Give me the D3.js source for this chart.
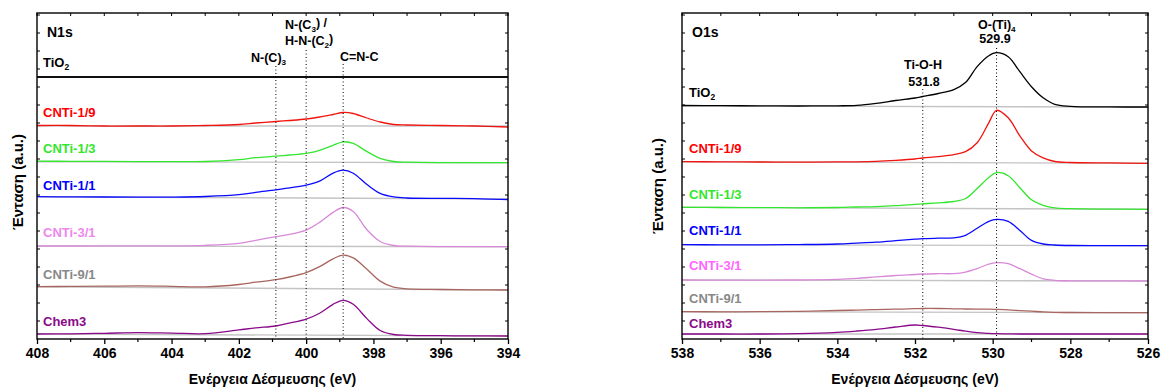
<!DOCTYPE html>
<html>
<head>
<meta charset="utf-8">
<script src="https://cdn.jsdelivr.net/npm/d3@7"></script>
<style>
  body { margin: 0; background: #fff; }
  svg { display: block; font-family: "Liberation Sans", Arial, sans-serif; font-weight: bold; }
</style>
</head>
<body>
<svg id="chart" width="1161" height="388"></svg>
<script>
// sample names, top to bottom
const samples = ["TiO_{2}", "CNTi-1/9", "CNTi-1/3", "CNTi-1/1", "CNTi-3/1", "CNTi-9/1", "Chem3"];

// ---- N1s (binding energy in eV, intensity in a.u.) ----
const nEnergy = [408, 407, 406, 405, 404, 403, 402, 401.5, 400.9, 400.5, 400.0, 399.6, 399.2, 398.9, 398.6, 398.2, 397.8, 397.4, 397, 396, 395, 394];
const nTiO2Energy = [408, 394];
const nTiO2 = [262, 262];
const nCNTi19 = [213.5, 213.5, 213, 213, 213, 213.5, 214.5, 216, 217.5, 218.5, 220, 222, 224.5, 226.5, 225.5, 221, 217, 214.5, 214, 213.5, 213, 212];
const nCNTi13 = [177.8, 177.7, 177.7, 177.4, 177.3, 177.5, 179.4, 181.3, 182.8, 184, 185.7, 188.7, 193.7, 197.2, 195.6, 187.6, 180.6, 177.5, 176.8, 176.4, 176.4, 176.3];
const nCNTi11 = [142.3, 142.1, 142, 141.8, 141.9, 142.5, 144.3, 146.7, 149.1, 151.1, 153.8, 157.9, 165.9, 168.8, 165.8, 154.7, 145.6, 142.1, 141, 140.6, 140.4, 139.5];
const nCNTi31 = [93, 93, 93.2, 93.1, 93.1, 93.7, 95.7, 98.7, 102.3, 104.6, 108.9, 116.6, 126.6, 131.5, 127.5, 109.5, 97.5, 93.5, 92.8, 92.4, 92.4, 92.3];
const nCNTi91 = [52.3, 52.6, 52.8, 53.1, 52.7, 52.1, 54.5, 56.8, 59.4, 62, 66.4, 72.3, 80.2, 83.8, 81.1, 70, 57.9, 51.8, 50.2, 49.5, 49.2, 49];
const nChem3 = [5, 5.2, 5.7, 6.4, 5.9, 5.3, 9.1, 11.1, 13, 15.9, 19.9, 25.8, 34.7, 38.7, 34.7, 20.6, 8.5, 4.5, 3.7, 3.3, 3.1, 3];
// straight backgrounds (value at 408 eV, value at 394 eV)
const nBaseStart = [262, 213, 177.3, 142.3, 93, 52.3, 5];
const nBaseEnd = [262, 213, 176.3, 140, 92.3, 49, 3];
const nPeaks = [400.9, 400.0, 398.9];

// ---- O1s ----
const oEnergy = [538, 537, 536, 535, 534, 533.5, 533, 532.5, 532, 531.8, 531.4, 531, 530.7, 530.4, 530.1, 529.9, 529.6, 529.3, 529, 528.7, 528.4, 528, 527, 526];
const oTiO2 = [233.5, 233.4, 233.1, 233, 233.2, 233.6, 235.6, 238.5, 241, 242.5, 245.5, 249.4, 256.4, 272.4, 283.3, 286.3, 282.3, 267.3, 252.3, 241.2, 234.7, 232.7, 232.1, 232];
const oCNTi19 = [177.3, 177.2, 177, 176.9, 177.1, 177.2, 177.6, 178.6, 180, 181, 182.4, 184.4, 187.3, 196.3, 216.2, 228.7, 221.2, 203.1, 188.1, 181.1, 177.5, 176.5, 176.1, 175.7];
const oCNTi13 = [131.7, 131.5, 131.4, 131.2, 131.5, 132, 132.4, 133.3, 134.7, 135.2, 136.1, 137.5, 140.5, 150.4, 161.4, 166.4, 163.3, 151.3, 139.2, 133.7, 131.1, 130.3, 129.9, 129.7];
const oCNTi11 = [94.3, 94.2, 94.1, 94.4, 95, 95.9, 96.9, 98.3, 99.8, 100.3, 100.8, 101.2, 103.7, 110.7, 117.7, 119.6, 117.6, 108.6, 98.6, 95, 94, 93.5, 93.4, 93.3];
const oCNTi31 = [59, 58.9, 58.8, 59, 59.7, 60.6, 62.1, 63.5, 64.5, 65, 65.3, 65.4, 66.9, 70.4, 74.9, 76.3, 75.3, 70.3, 64.8, 60.2, 58.7, 58.2, 58.1, 58];
const oCNTi91 = [27.3, 27.2, 27.3, 27.6, 28.5, 28.9, 29.4, 29.8, 30.3, 30.5, 30.5, 30.2, 30, 29.9, 29.9, 29.6, 29.1, 28.4, 27.8, 27.1, 26.7, 26.5, 26.4, 26.3];
const oChem3 = [5, 5, 5, 5.4, 6.7, 8, 9.7, 12, 14, 13.5, 11.8, 9.7, 7.8, 6.3, 5.6, 5.3, 5.1, 5, 5, 5, 5, 5, 5, 5];
const oBaseStart = [233, 177.3, 131.7, 94.3, 59, 27.3, 5];
const oBaseEnd = [232, 175.7, 129.7, 93.3, 58, 26.3, 5];
const oPeaks = [531.8, 529.9];

const xTicksN = [408, 406, 404, 402, 400, 398, 396, 394];
const xTicksO = [538, 536, 534, 532, 530, 528, 526];

const traceColors = ["#000000", "#f0150f", "#33e62e", "#0a0aff", "#d88ad8", "#a8665f", "#8a0a8a"];
const labelColorsN = ["#000000", "#ff0000", "#33e62e", "#0000ff", "#ee88ee", "#888888", "#8a0a8a"];
const labelColorsO = ["#000000", "#ff0000", "#33e62e", "#0000ff", "#ff66ff", "#888888", "#8a0a8a"];

const svg = d3.select("#chart");
const plotTop = 13, plotBottom = 339;

function rich(sel, str) {
  const parts = str.split(/_\{([^}]*)\}/);
  parts.forEach((p, i) => {
    if (!p) return;
    const t = sel.append("tspan").text(p);
    if (i % 2 === 1) t.attr("font-size", "0.65em").attr("dy", "0.35em");
    else if (i > 0) t.attr("dy", "-0.35em");
  });
  return sel;
}

function drawPanel(cfg) {
  const x = d3.scaleLinear().domain(cfg.domain).range([cfg.left, cfg.right]);
  const y = d3.scaleLinear().domain([0, 326]).range([plotBottom, plotTop]);
  const g = svg.append("g");

  const clipId = "clip" + cfg.id;
  g.append("clipPath").attr("id", clipId).append("rect")
    .attr("x", cfg.left).attr("y", plotTop).attr("width", cfg.right - cfg.left).attr("height", plotBottom - plotTop);

  const plot = g.append("g").attr("clip-path", `url(#${clipId})`);

  // gray straight backgrounds
  cfg.baseStart.forEach((b, i) => {
    plot.append("line")
      .attr("x1", x(cfg.domain[0])).attr("x2", x(cfg.domain[1]))
      .attr("y1", y(b)).attr("y2", y(cfg.baseEnd[i]))
      .attr("stroke", i === 0 && cfg.id === "N" ? "#000" : "#c4c4c4")
      .attr("stroke-width", 1.4);
  });

  const line = d3.line().x(d => x(d[0])).y(d => y(d[1])).curve(d3.curveCatmullRom.alpha(0.5));
  cfg.series.forEach((s, i) => {
    plot.append("path")
      .datum(d3.zip(s.energy, s.values))
      .attr("d", line)
      .attr("fill", "none")
      .attr("stroke", traceColors[i])
      .attr("stroke-width", 1.3);
  });

  // dotted peak markers
  cfg.peaks.forEach((e, i) => {
    g.append("line")
      .attr("x1", x(e)).attr("x2", x(e))
      .attr("y1", cfg.peakTop[i]).attr("y2", plotBottom)
      .attr("stroke", "#000").attr("stroke-width", 1)
      .attr("stroke-dasharray", "1,2.5");
  });

  // frame
  g.append("rect")
    .attr("x", cfg.left).attr("y", plotTop)
    .attr("width", cfg.right - cfg.left).attr("height", plotBottom - plotTop)
    .attr("fill", "none").attr("stroke", "#000").attr("stroke-width", 1.4);

  // bottom axis
  const xAxis = d3.axisBottom(x).tickValues(cfg.ticks).tickSize(5).tickPadding(4).tickFormat(d3.format("d"));
  const ax = g.append("g").attr("transform", `translate(0,${plotBottom})`).call(xAxis);
  ax.select(".domain").remove();
  ax.selectAll("line").attr("stroke-width", 1.3);
  ax.selectAll("text").attr("font-size", "14px").attr("font-weight", "bold").attr("fill", "#000")
    .attr("font-family", "'Liberation Sans', Arial, sans-serif");

  const lo = Math.min(...cfg.domain), hi = Math.max(...cfg.domain);
  const minor = d3.range(lo, hi + 1, 1).filter(v => !cfg.ticks.includes(v));
  g.selectAll(null).data(minor).join("line")
    .attr("x1", d => x(d)).attr("x2", d => x(d))
    .attr("y1", plotBottom).attr("y2", plotBottom + 3)
    .attr("stroke", "#000").attr("stroke-width", 1.2);

  // mirrored small ticks on top and on the sides
  g.selectAll(null).data(d3.range(lo, hi + 1, 1)).join("line")
    .attr("x1", d => x(d)).attr("x2", d => x(d))
    .attr("y1", plotTop).attr("y2", plotTop + 3)
    .attr("stroke", "#000").attr("stroke-width", 1);
  const yTicks = d3.range(18, 326, 18);
  [cfg.left, cfg.right].forEach((px, k) => {
    g.selectAll(null).data(yTicks).join("line")
      .attr("x1", px).attr("x2", k === 0 ? px + 3 : px - 3)
      .attr("y1", d => y(d)).attr("y2", d => y(d))
      .attr("stroke", "#000").attr("stroke-width", 1);
  });

  // sample labels
  samples.forEach((name, i) => {
    rich(g.append("text")
      .attr("x", cfg.labelX).attr("y", cfg.labelY[i])
      .attr("font-size", "13px")
      .attr("fill", cfg.labelColors[i]), name);
  });

  // core level title
  g.append("text").attr("x", cfg.titleX).attr("y", 37).attr("font-size", "14px").text(cfg.title);

  // peak annotations
  cfg.notes.forEach(n => {
    rich(g.append("text")
      .attr("x", n.x).attr("y", n.y)
      .attr("text-anchor", n.anchor || "start")
      .attr("font-size", "12.5px"), n.text);
  });

  // axis titles
  g.append("text")
    .attr("x", (cfg.left + cfg.right) / 2).attr("y", 384)
    .attr("text-anchor", "middle").attr("font-size", "14px")
    .text("Ενέργεια Δέσμευσης (eV)");
  g.append("text")
    .attr("transform", `translate(${cfg.yTitleX},${cfg.yTitleY}) rotate(-90)`)
    .attr("text-anchor", "middle").attr("font-size", "15px")
    .text("Ένταση (a.u.)");
  return x;
}

drawPanel({
  id: "N",
  domain: [408, 394], left: 37, right: 508,
  ticks: xTicksN,
  series: [
    { energy: nTiO2Energy, values: nTiO2 },
    { energy: nEnergy, values: nCNTi19 },
    { energy: nEnergy, values: nCNTi13 },
    { energy: nEnergy, values: nCNTi11 },
    { energy: nEnergy, values: nCNTi31 },
    { energy: nEnergy, values: nCNTi91 },
    { energy: nEnergy, values: nChem3 }
  ],
  baseStart: nBaseStart, baseEnd: nBaseEnd,
  peaks: nPeaks, peakTop: [66, 50, 64],
  labelX: 43, labelY: [67, 117, 153, 190, 237, 279, 326],
  labelColors: labelColorsN,
  title: "N1s", titleX: 47,
  notes: [
    { text: "N-(C_{3}) /", x: 285, y: 29 },
    { text: "H-N-(C_{2})", x: 285, y: 45 },
    { text: "N-(C)_{3}", x: 251, y: 62 },
    { text: "C=N-C", x: 340, y: 61 }
  ],
  yTitleX: 23, yTitleY: 182
});

drawPanel({
  id: "O",
  domain: [538, 526], left: 682, right: 1148,
  ticks: xTicksO,
  series: [
    { energy: oEnergy, values: oTiO2 },
    { energy: oEnergy, values: oCNTi19 },
    { energy: oEnergy, values: oCNTi13 },
    { energy: oEnergy, values: oCNTi11 },
    { energy: oEnergy, values: oCNTi31 },
    { energy: oEnergy, values: oCNTi91 },
    { energy: oEnergy, values: oChem3 }
  ],
  baseStart: oBaseStart, baseEnd: oBaseEnd,
  peaks: oPeaks, peakTop: [89, 48],
  labelX: 689, labelY: [97, 153, 199, 235, 270, 303, 328],
  labelColors: labelColorsO,
  title: "O1s", titleX: 692,
  notes: [
    { text: "O-(Ti)_{4}", x: 978, y: 29 },
    { text: "529.9", x: 995, y: 43, anchor: "middle" },
    { text: "Ti-O-H", x: 923, y: 69, anchor: "middle" },
    { text: "531.8", x: 924, y: 86, anchor: "middle" }
  ],
  yTitleX: 663, yTitleY: 186
});
</script>
</body>
</html>
